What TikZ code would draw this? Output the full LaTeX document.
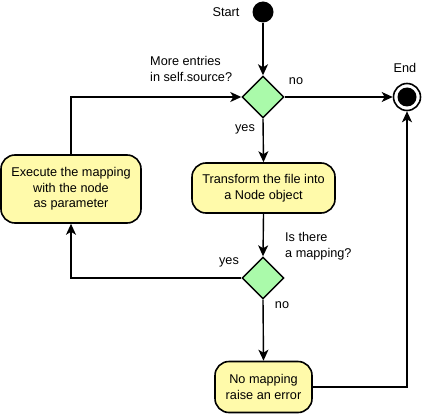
\documentclass[tikz,border=0pt]{standalone}
\usepackage{fontspec}
\setmainfont{Liberation Sans}
\usetikzlibrary{shapes.geometric,arrows.meta}
\definecolor{dgreen}{RGB}{170,250,170}
\definecolor{byellow}{RGB}{255,250,170}
\begin{document}
\begin{tikzpicture}[x=1pt,y=-1pt,
  every node/.style={font=\fontsize{12.7}{15.7}\selectfont, inner sep=0pt},
  act/.style={draw, line width=1.6pt, fill=byellow, rounded corners=14pt, align=center},
  dec/.style={draw, line width=1.4pt, fill=dgreen, diamond, aspect=1, minimum width=42pt, minimum height=42pt},
  flow/.style={line width=1.4pt, -{Stealth[length=11pt,width=10pt,inset=3pt]}},
  lbl/.style={align=left}]
\useasboundingbox (0,0) rectangle (422,414);
\node[circle, fill=black, minimum size=21pt] (start) at (263,12) {};
\node (startlbl) at (226,12) {Start};
\node[dec] (d1) at (263,97) {};
\node[circle, draw, line width=1.6pt, fill=white, minimum size=27pt] (endo) at (407,97) {};
\node[circle, fill=black, minimum size=19pt] (endi) at (407,97) {};
\node (endlbl) at (405,68) {End};
\node[act, minimum width=143pt, minimum height=50pt] (trans) at (263.5,188) {Transform the file into\\a Node object};
\node[act, minimum width=140pt, minimum height=68pt] (exec) at (71,189) {Execute the mapping\\with the node\\as parameter};
\node[dec] (d2) at (263,278) {};
\node[act, minimum width=97pt, minimum height=51pt] (nomap) at (263.5,387) {No mapping\\raise an error};
\node[lbl, anchor=west] (more) at (150,69) {More entries\\in self.source?};
\node (no1) at (296,81) {no};
\node (yes1) at (245,129) {yes};
\node[lbl, anchor=west] (isthere) at (285,246) {Is there\\a mapping?};
\node (yes2) at (229,262) {yes};
\node (no2) at (282,305) {no};
\draw[flow] (start) -- (d1);
\draw[flow] (d1.east) -- (endo.west);
\draw[flow] (d1.south) -- (trans.north);
\draw[flow] (trans.south) -- (d2.north);
\draw[flow] (d2.west) -| (exec.south);
\draw[flow] (exec.north) |- (d1.west);
\draw[flow] (d2.south) -- (nomap.north);
\draw[flow] (nomap.east) -| (endo.south);
\end{tikzpicture}
\end{document}
